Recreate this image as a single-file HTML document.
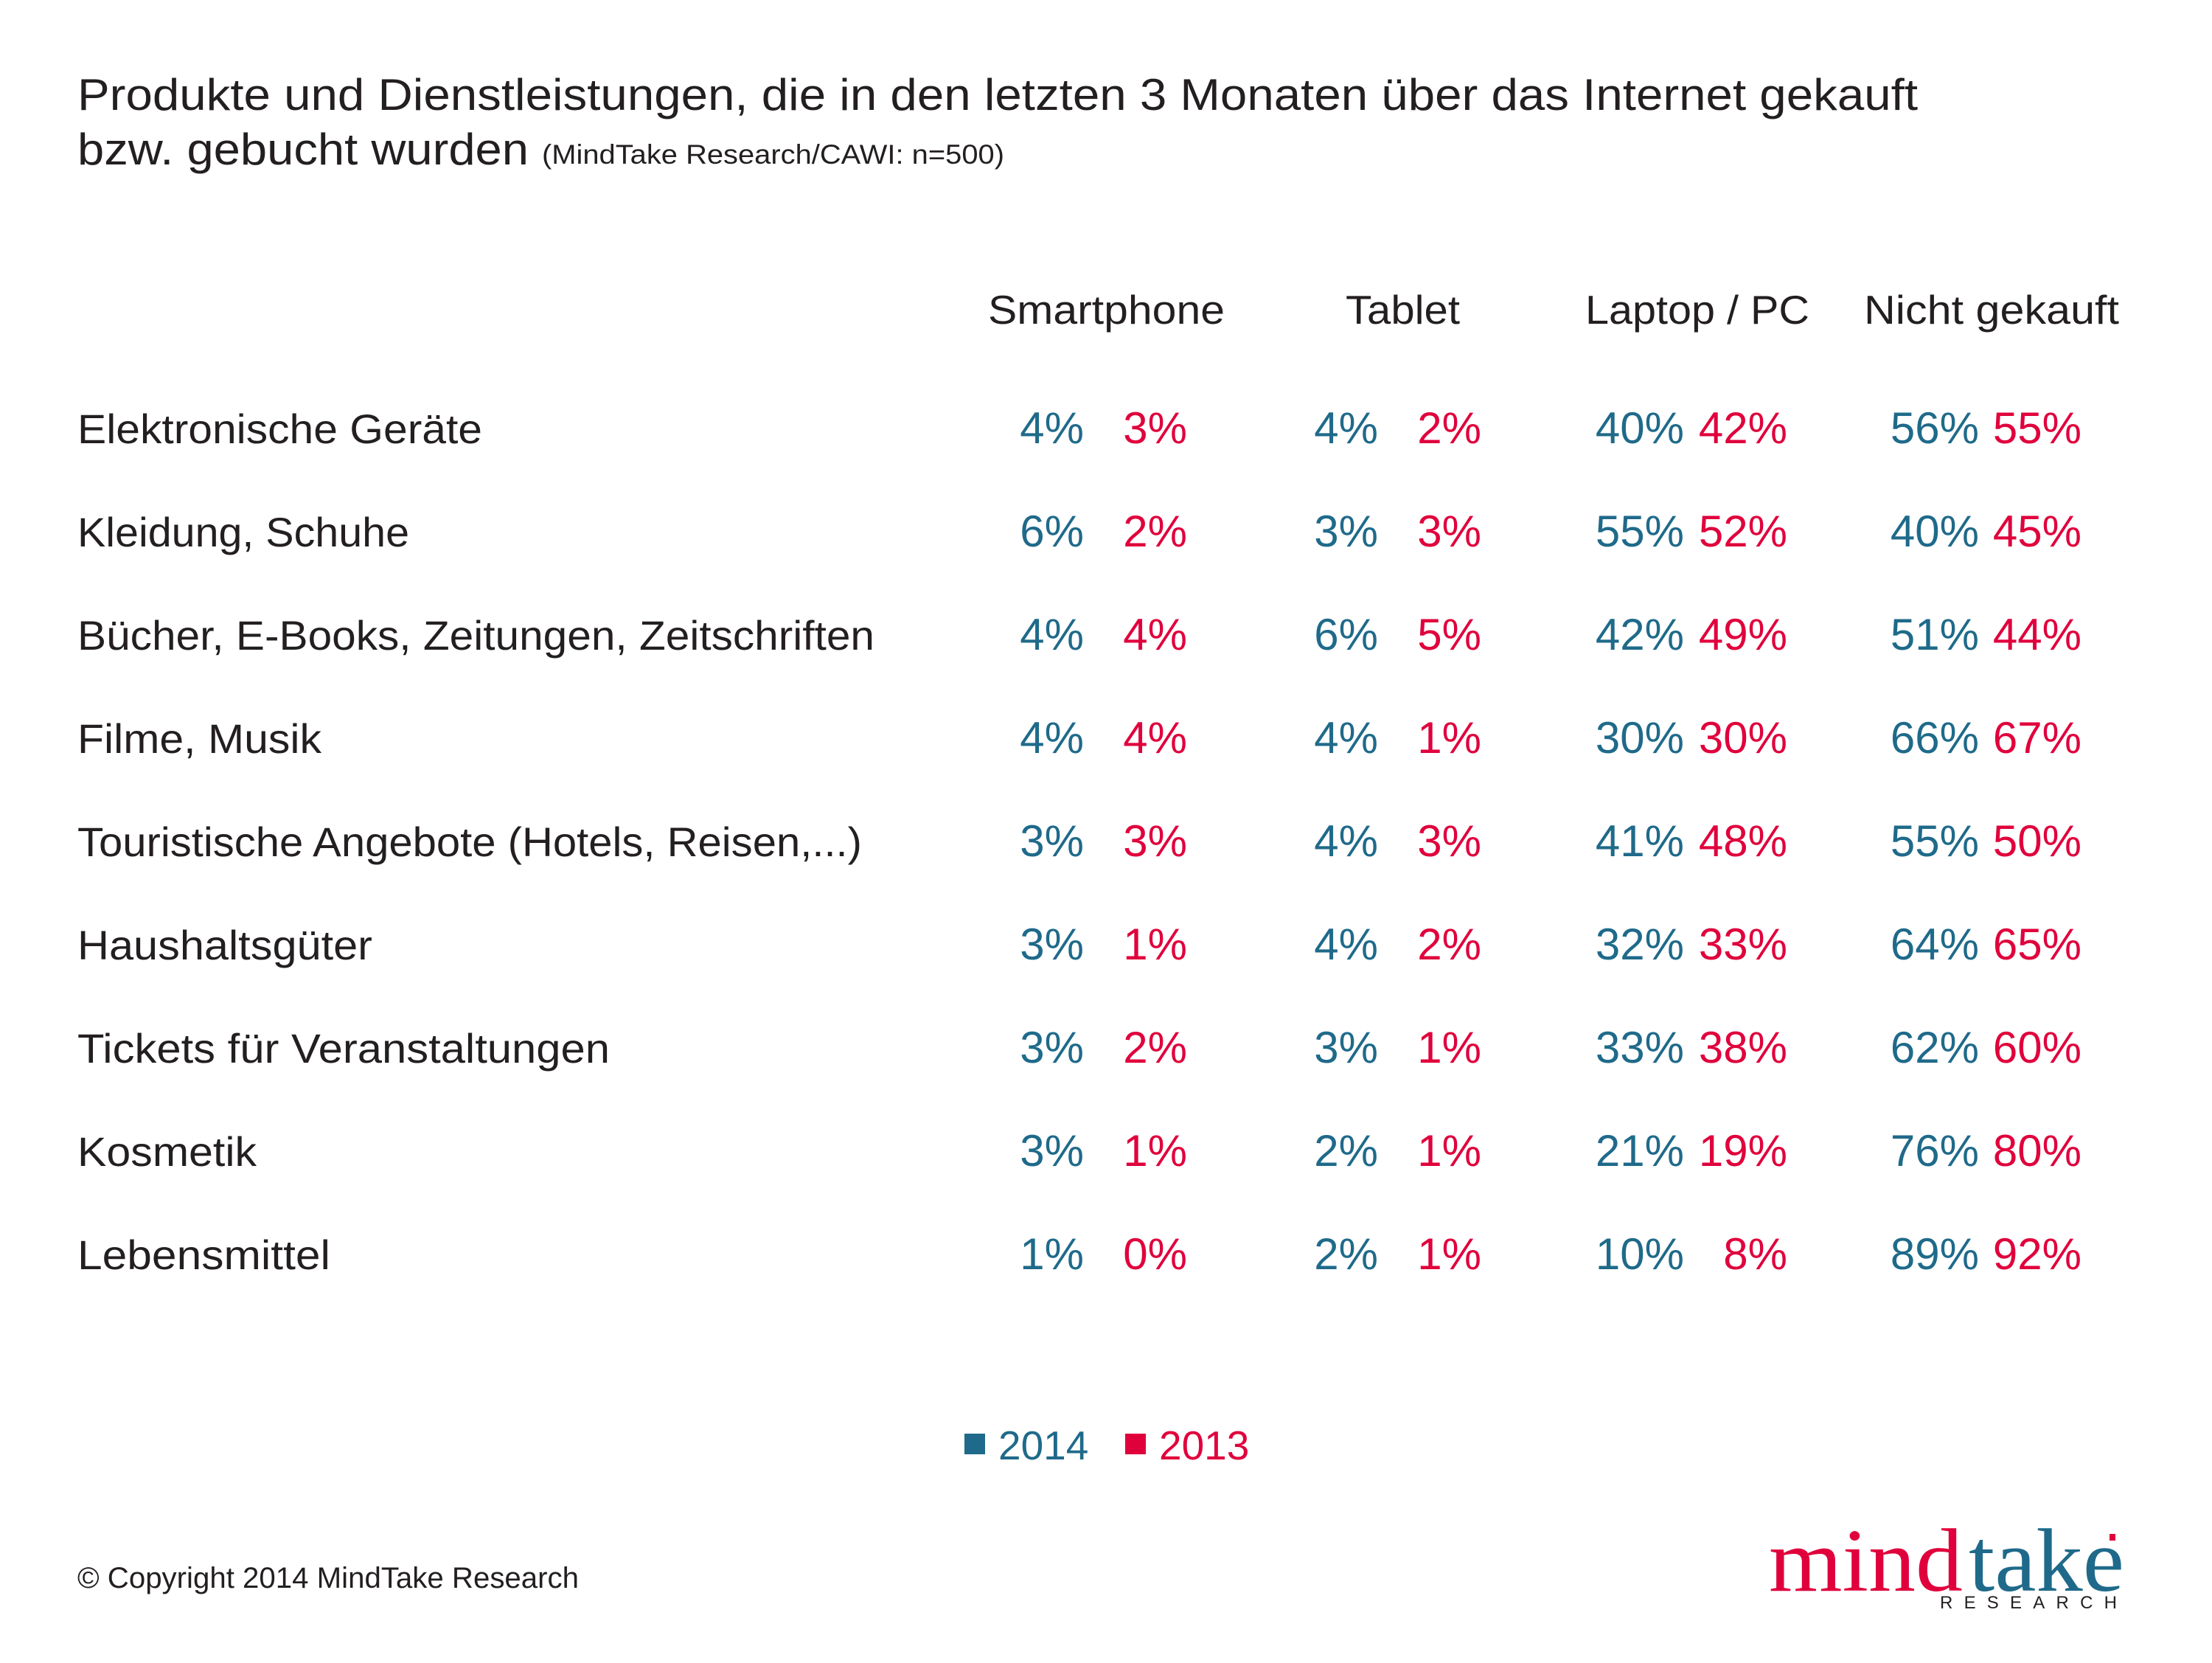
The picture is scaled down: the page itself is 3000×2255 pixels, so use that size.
<!DOCTYPE html>
<html><head><meta charset="utf-8"><style>html,body{margin:0;padding:0;background:#fff}</style></head>
<body>
<svg width="3000" height="2250" viewBox="0 0 3000 2250" xmlns="http://www.w3.org/2000/svg" font-family="Liberation Sans, sans-serif">
<rect width="3000" height="2250" fill="#fff"/>
<g fill="#231f20">
<text x="105" y="149" font-size="60" textLength="2496" lengthAdjust="spacingAndGlyphs">Produkte und Dienstleistungen, die in den letzten 3 Monaten über das Internet gekauft</text>
<text x="105" y="223" font-size="60" textLength="612" lengthAdjust="spacingAndGlyphs">bzw. gebucht wurden</text>
<text x="735" y="222" font-size="37" textLength="627" lengthAdjust="spacingAndGlyphs">(MindTake Research/CAWI: n=500)</text>
<g font-size="55">
<text x="1340" y="439" textLength="321" lengthAdjust="spacingAndGlyphs">Smartphone</text>
<text x="1825" y="439" textLength="155" lengthAdjust="spacingAndGlyphs">Tablet</text>
<text x="2150" y="439" textLength="304" lengthAdjust="spacingAndGlyphs">Laptop / PC</text>
<text x="2528" y="439" textLength="346" lengthAdjust="spacingAndGlyphs">Nicht gekauft</text>
</g>
<g font-size="56">
<text x="105" y="601" textLength="549" lengthAdjust="spacingAndGlyphs">Elektronische Geräte</text>
<text x="105" y="741" textLength="450" lengthAdjust="spacingAndGlyphs">Kleidung, Schuhe</text>
<text x="105" y="881" textLength="1081" lengthAdjust="spacingAndGlyphs">Bücher, E-Books, Zeitungen, Zeitschriften</text>
<text x="105" y="1021" textLength="331" lengthAdjust="spacingAndGlyphs">Filme, Musik</text>
<text x="105" y="1161" textLength="1064" lengthAdjust="spacingAndGlyphs">Touristische Angebote (Hotels, Reisen,...)</text>
<text x="105" y="1301" textLength="400" lengthAdjust="spacingAndGlyphs">Haushaltsgüter</text>
<text x="105" y="1441" textLength="722" lengthAdjust="spacingAndGlyphs">Tickets für Veranstaltungen</text>
<text x="105" y="1581" textLength="243" lengthAdjust="spacingAndGlyphs">Kosmetik</text>
<text x="105" y="1721" textLength="343" lengthAdjust="spacingAndGlyphs">Lebensmittel</text>
</g>
<text x="105" y="2153" font-size="40" textLength="680" lengthAdjust="spacingAndGlyphs">© Copyright 2014 MindTake Research</text>
</g>
<g font-size="60" text-anchor="end">
<g fill="#1f6a8a">
<text x="1470" y="601">4%</text><text x="1869" y="601">4%</text><text x="2284" y="601">40%</text><text x="2684" y="601">56%</text>
<text x="1470" y="741">6%</text><text x="1869" y="741">3%</text><text x="2284" y="741">55%</text><text x="2684" y="741">40%</text>
<text x="1470" y="881">4%</text><text x="1869" y="881">6%</text><text x="2284" y="881">42%</text><text x="2684" y="881">51%</text>
<text x="1470" y="1021">4%</text><text x="1869" y="1021">4%</text><text x="2284" y="1021">30%</text><text x="2684" y="1021">66%</text>
<text x="1470" y="1161">3%</text><text x="1869" y="1161">4%</text><text x="2284" y="1161">41%</text><text x="2684" y="1161">55%</text>
<text x="1470" y="1301">3%</text><text x="1869" y="1301">4%</text><text x="2284" y="1301">32%</text><text x="2684" y="1301">64%</text>
<text x="1470" y="1441">3%</text><text x="1869" y="1441">3%</text><text x="2284" y="1441">33%</text><text x="2684" y="1441">62%</text>
<text x="1470" y="1581">3%</text><text x="1869" y="1581">2%</text><text x="2284" y="1581">21%</text><text x="2684" y="1581">76%</text>
<text x="1470" y="1721">1%</text><text x="1869" y="1721">2%</text><text x="2284" y="1721">10%</text><text x="2684" y="1721">89%</text>
</g>
<g fill="#e0003c">
<text x="1610" y="601">3%</text><text x="2009" y="601">2%</text><text x="2424" y="601">42%</text><text x="2823" y="601">55%</text>
<text x="1610" y="741">2%</text><text x="2009" y="741">3%</text><text x="2424" y="741">52%</text><text x="2823" y="741">45%</text>
<text x="1610" y="881">4%</text><text x="2009" y="881">5%</text><text x="2424" y="881">49%</text><text x="2823" y="881">44%</text>
<text x="1610" y="1021">4%</text><text x="2009" y="1021">1%</text><text x="2424" y="1021">30%</text><text x="2823" y="1021">67%</text>
<text x="1610" y="1161">3%</text><text x="2009" y="1161">3%</text><text x="2424" y="1161">48%</text><text x="2823" y="1161">50%</text>
<text x="1610" y="1301">1%</text><text x="2009" y="1301">2%</text><text x="2424" y="1301">33%</text><text x="2823" y="1301">65%</text>
<text x="1610" y="1441">2%</text><text x="2009" y="1441">1%</text><text x="2424" y="1441">38%</text><text x="2823" y="1441">60%</text>
<text x="1610" y="1581">1%</text><text x="2009" y="1581">1%</text><text x="2424" y="1581">19%</text><text x="2823" y="1581">80%</text>
<text x="1610" y="1721">0%</text><text x="2009" y="1721">1%</text><text x="2424" y="1721">8%</text><text x="2823" y="1721">92%</text>
</g>
</g>
<rect x="1308" y="1944" width="28" height="28" fill="#1f6a8a"/>
<text x="1354" y="1979" font-size="55" fill="#1f6a8a">2014</text>
<rect x="1526" y="1944" width="28" height="28" fill="#e0003c"/>
<text x="1572" y="1979" font-size="55" fill="#e0003c">2013</text>
<g font-family="Liberation Serif, serif" font-size="122">
<text x="2399" y="2157" fill="#e0003c" textLength="263" lengthAdjust="spacingAndGlyphs">mind</text>
<text x="2670" y="2157" fill="#1f6a8a" textLength="211" lengthAdjust="spacingAndGlyphs">take</text>
</g>
<rect x="2861" y="2080" width="8" height="9" fill="#e0003c"/>
<text x="2631" y="2181" font-size="24" fill="#231f20" textLength="240" lengthAdjust="spacing">RESEARCH</text>
</svg>
</body></html>
